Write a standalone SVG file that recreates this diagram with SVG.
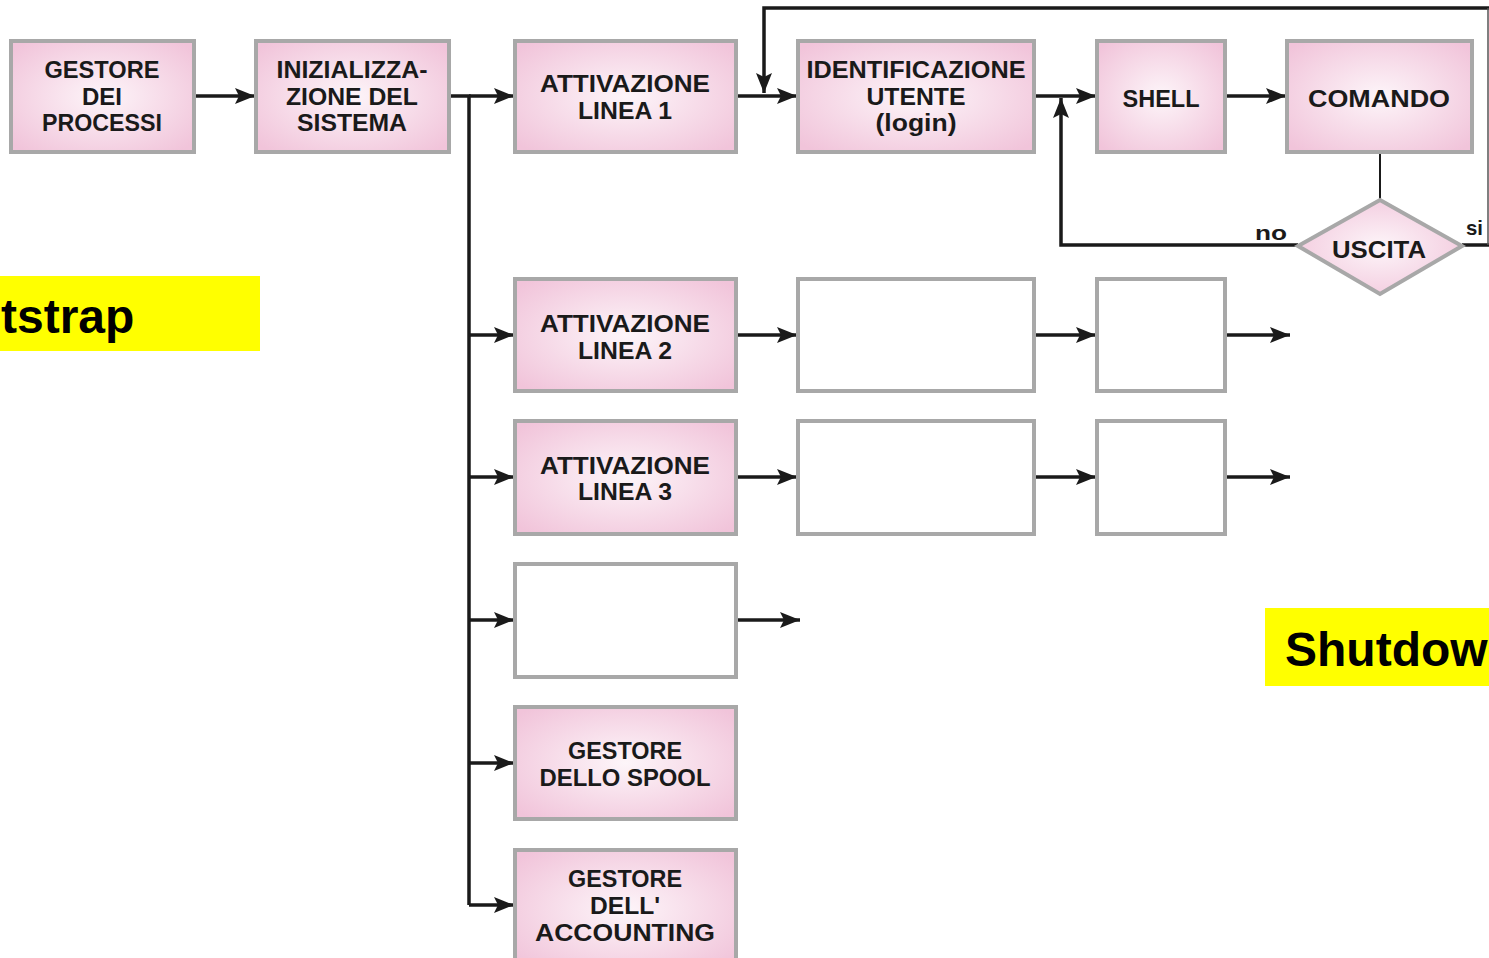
<svg xmlns="http://www.w3.org/2000/svg" width="1489" height="958" viewBox="0 0 1489 958">
<defs>
<radialGradient id="pk" cx="50%" cy="50%" r="65%">
<stop offset="0" stop-color="#fdf5f9"/>
<stop offset="1" stop-color="#f1c4da"/>
</radialGradient>
<marker id="ah" markerUnits="userSpaceOnUse" markerWidth="22" markerHeight="18" refX="20" refY="8" orient="auto">
<path d="M0,0 L20,8 L0,16 L4,8 z" fill="#1a1a1a"/>
</marker>
<style>
.n{fill:url(#pk);stroke:#a8a8a8;stroke-width:4}
.e{fill:#fff;stroke:#a8a8a8;stroke-width:4}
.t{font-family:"Liberation Sans",Arial,sans-serif;font-weight:bold;font-size:24px;fill:#1a1a1a;text-anchor:middle}
.c{fill:none;stroke:#1a1a1a;stroke-width:3.5}
.a{marker-end:url(#ah)}
.y{fill:#ffff00}
.yt{font-family:"Liberation Sans",Arial,sans-serif;font-weight:bold;font-size:48px;fill:#000}
.s{font-family:"Liberation Sans",Arial,sans-serif;font-weight:bold;font-size:21px;fill:#1a1a1a}
</style>
</defs>
<rect width="1489" height="958" fill="#fff"/>

<g id="connectors">
<line class="c a" x1="195" y1="96" x2="255" y2="96"/>
<polyline class="c" points="450,96 469,96 469,905"/>
<line class="c a" x1="469" y1="96" x2="514" y2="96"/>
<line class="c a" x1="469" y1="335" x2="514" y2="335"/>
<line class="c a" x1="469" y1="477" x2="514" y2="477"/>
<line class="c a" x1="469" y1="620" x2="514" y2="620"/>
<line class="c a" x1="469" y1="763" x2="514" y2="763"/>
<line class="c a" x1="469" y1="905" x2="514" y2="905"/>
<line class="c a" x1="737" y1="96" x2="797" y2="96"/>
<polyline class="c a" points="1489,8 764,8 764,93"/>
<line class="c a" x1="1035" y1="96" x2="1096" y2="96"/>
<line class="c a" x1="1226" y1="96" x2="1286" y2="96"/>
<line x1="1380" y1="153" x2="1380" y2="200" stroke="#1a1a1a" stroke-width="2"/>
<polyline class="c a" points="1298,245 1061,245 1061,98"/>
<line class="c" x1="1462" y1="245" x2="1489" y2="245"/>
<line x1="1488" y1="8" x2="1488" y2="245" stroke="#555" stroke-width="1.5"/>
<line class="c a" x1="737" y1="335" x2="797" y2="335"/>
<line class="c a" x1="1035" y1="335" x2="1096" y2="335"/>
<line class="c a" x1="1226" y1="335" x2="1290" y2="335"/>
<line class="c a" x1="737" y1="477" x2="797" y2="477"/>
<line class="c a" x1="1035" y1="477" x2="1096" y2="477"/>
<line class="c a" x1="1226" y1="477" x2="1290" y2="477"/>
<line class="c a" x1="737" y1="620" x2="800" y2="620"/>
<text class="s" x="1255" y="240" textLength="32" lengthAdjust="spacingAndGlyphs">no</text>
<text class="s" x="1466" y="235" textLength="17" lengthAdjust="spacingAndGlyphs">si</text>
</g>

<g id="gestore-processi">
<rect class="n" x="11" y="41" width="183" height="111"/>
<text class="t" x="102" y="78" textLength="115" lengthAdjust="spacingAndGlyphs">GESTORE</text>
<text class="t" x="102" y="105" textLength="40" lengthAdjust="spacingAndGlyphs">DEI</text>
<text class="t" x="102" y="131" textLength="120" lengthAdjust="spacingAndGlyphs">PROCESSI</text>
</g>
<g id="inizializzazione">
<rect class="n" x="256" y="41" width="193" height="111"/>
<text class="t" x="352" y="78" textLength="151" lengthAdjust="spacingAndGlyphs">INIZIALIZZA-</text>
<text class="t" x="352" y="105" textLength="132" lengthAdjust="spacingAndGlyphs">ZIONE DEL</text>
<text class="t" x="352" y="131" textLength="110" lengthAdjust="spacingAndGlyphs">SISTEMA</text>
</g>
<g id="attivazione-1">
<rect class="n" x="515" y="41" width="221" height="111"/>
<text class="t" x="625" y="92" textLength="170" lengthAdjust="spacingAndGlyphs">ATTIVAZIONE</text>
<text class="t" x="625" y="119" textLength="94" lengthAdjust="spacingAndGlyphs">LINEA 1</text>
</g>
<g id="identificazione">
<rect class="n" x="798" y="41" width="236" height="111"/>
<text class="t" x="916" y="78" textLength="219" lengthAdjust="spacingAndGlyphs">IDENTIFICAZIONE</text>
<text class="t" x="916" y="105" textLength="99" lengthAdjust="spacingAndGlyphs">UTENTE</text>
<text class="t" x="916" y="131" textLength="81" lengthAdjust="spacingAndGlyphs">(login)</text>
</g>
<g id="shell">
<rect class="n" x="1097" y="41" width="128" height="111"/>
<text class="t" x="1161" y="107" textLength="77" lengthAdjust="spacingAndGlyphs">SHELL</text>
</g>
<g id="comando">
<rect class="n" x="1287" y="41" width="185" height="111"/>
<text class="t" x="1379" y="107" textLength="142" lengthAdjust="spacingAndGlyphs">COMANDO</text>
</g>
<g id="uscita">
<polygon class="n" points="1380,200 1462,246 1380,294 1298,246"/>
<text class="t" x="1379" y="258" textLength="94" lengthAdjust="spacingAndGlyphs">USCITA</text>
</g>
<g id="attivazione-2">
<rect class="n" x="515" y="279" width="221" height="112"/>
<text class="t" x="625" y="332" textLength="170" lengthAdjust="spacingAndGlyphs">ATTIVAZIONE</text>
<text class="t" x="625" y="359" textLength="94" lengthAdjust="spacingAndGlyphs">LINEA 2</text>
</g>
<g id="vuoto-2a"><rect class="e" x="798" y="279" width="236" height="112"/></g>
<g id="vuoto-2b"><rect class="e" x="1097" y="279" width="128" height="112"/></g>
<g id="attivazione-3">
<rect class="n" x="515" y="421" width="221" height="113"/>
<text class="t" x="625" y="474" textLength="170" lengthAdjust="spacingAndGlyphs">ATTIVAZIONE</text>
<text class="t" x="625" y="500" textLength="94" lengthAdjust="spacingAndGlyphs">LINEA 3</text>
</g>
<g id="vuoto-3a"><rect class="e" x="798" y="421" width="236" height="113"/></g>
<g id="vuoto-3b"><rect class="e" x="1097" y="421" width="128" height="113"/></g>
<g id="vuoto-4"><rect class="e" x="515" y="564" width="221" height="113"/></g>
<g id="gestore-spool">
<rect class="n" x="515" y="707" width="221" height="112"/>
<text class="t" x="625" y="759" textLength="114" lengthAdjust="spacingAndGlyphs">GESTORE</text>
<text class="t" x="625" y="786" textLength="171" lengthAdjust="spacingAndGlyphs">DELLO SPOOL</text>
</g>
<g id="gestore-accounting">
<rect class="n" x="515" y="850" width="221" height="120"/>
<text class="t" x="625" y="887" textLength="114" lengthAdjust="spacingAndGlyphs">GESTORE</text>
<text class="t" x="625" y="914" textLength="70" lengthAdjust="spacingAndGlyphs">DELL'</text>
<text class="t" x="625" y="941" textLength="180" lengthAdjust="spacingAndGlyphs">ACCOUNTING</text>
</g>
<g id="bootstrap-label">
<rect class="y" x="0" y="276" width="260" height="75"/>
<text class="yt" x="1" y="333">tstrap</text>
</g>
<g id="shutdown-label">
<rect class="y" x="1265" y="608" width="224" height="78"/>
<text class="yt" x="1285" y="666">Shutdow</text>
</g>
</svg>
